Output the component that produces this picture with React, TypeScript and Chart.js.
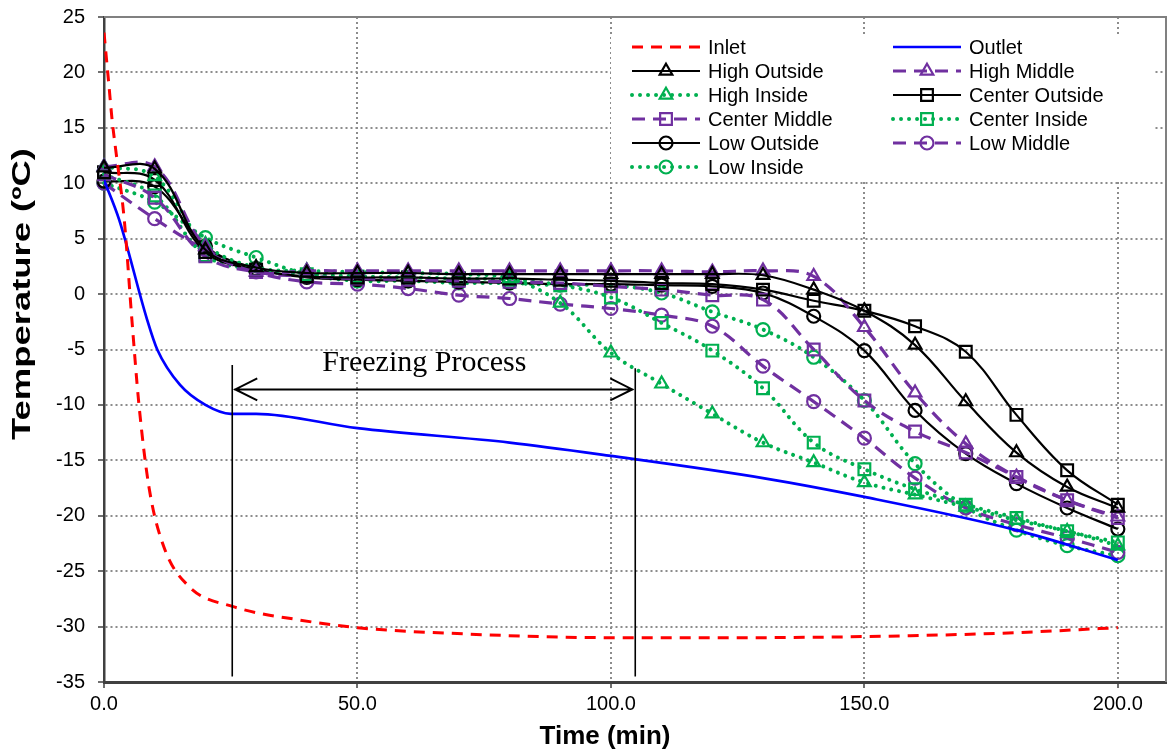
import React, { useEffect, useRef } from "react";
import { Chart, registerables } from "chart.js";

Chart.register(...registerables);

// ---------- DATA ----------
const times = [0, 10, 20, 30, 40, 50, 60, 70, 80, 90, 100, 110, 120, 130, 140, 150, 160, 170, 180, 190, 200];

const highOutside = [11.4, 11.3, 4.0, 2.4, 1.9, 1.9, 1.9, 1.8, 1.8, 1.8, 1.8, 1.8, 1.8, 1.7, 0.4, -1.5, -4.6, -9.7, -14.3, -17.4, -19.3];
const highMiddle = [11.5, 11.5, 4.3, 2.0, 2.1, 2.1, 2.1, 2.1, 2.1, 2.1, 2.1, 2.1, 2.0, 2.1, 1.6, -3.0, -8.9, -13.5, -16.5, -18.6, -20.1];
const highInside = [11.5, 10.6, 4.5, 2.4, 2.1, 2.0, 1.9, 1.8, 1.4, -0.8, -5.3, -8.1, -10.8, -13.4, -15.2, -17.0, -18.1, -19.2, -20.4, -21.4, -22.7];
const centerOutside = [11.0, 10.3, 3.8, 2.2, 1.6, 1.5, 1.5, 1.4, 1.4, 1.3, 1.2, 1.0, 0.9, 0.4, -0.6, -1.5, -2.9, -5.2, -10.9, -15.9, -19.0];
const centerMiddle = [10.8, 8.7, 3.4, 2.0, 1.6, 1.4, 1.3, 1.2, 1.1, 1.0, 0.7, 0.4, -0.1, -0.5, -5.0, -9.6, -12.4, -14.3, -16.5, -18.6, -20.2];
const centerInside = [10.8, 8.9, 3.5, 2.2, 1.8, 1.6, 1.5, 1.4, 1.3, 0.8, -0.3, -2.6, -5.1, -8.5, -13.4, -15.8, -17.6, -19.0, -20.2, -21.4, -22.4];
const lowOutside = [10.2, 9.7, 4.3, 2.3, 1.5, 1.3, 1.2, 1.1, 1.0, 0.9, 0.9, 0.8, 0.7, 0.1, -2.0, -5.1, -10.5, -14.4, -17.1, -19.3, -21.2];
const lowMiddle = [10.0, 6.8, 4.0, 2.0, 1.1, 0.9, 0.5, -0.1, -0.4, -0.9, -1.3, -1.9, -2.9, -6.5, -9.7, -13.0, -16.6, -19.3, -20.8, -22.0, -23.3];
const lowInside = [10.0, 8.3, 5.1, 3.3, 1.8, 1.2, 1.2, 1.0, 1.0, 0.8, 0.8, 0.1, -1.6, -3.2, -5.7, -9.6, -15.3, -19.2, -21.3, -22.7, -23.6];

const inletTime = [0, 1, 1.6, 2.4, 4, 5.5, 6.9, 8.9, 11.8, 16.8, 25.5, 38.5, 50, 68, 100, 127, 150, 177, 200];
const inletTemp = [23.6, 18.7, 15.7, 12.7, 6.7, -2.3, -10, -17.5, -22.8, -26.4, -28.2, -29.4, -30.1, -30.6, -31.0, -31.0, -30.9, -30.6, -30.1];

const outletTime = [0, 3, 8.5, 10.5, 15, 20, 25, 30, 50, 80, 100, 130, 150, 180, 200];
const outletTemp = [10.3, 6.7, -2.3, -5.0, -8.2, -10.0, -10.8, -10.8, -12.1, -13.4, -14.6, -16.6, -18.3, -21.3, -24.0];

// annotation (data units)
const freezeStart = 25.3;
const freezeEnd = 104.8;
const freezeArrowY = -8.6;
const freezeLineTopStart = -6.4;
const freezeLineTopEnd = -6.7;
const freezeLineBottom = -34.5;
const freezeLabelX = 63.2;
const freezeLabelY = -6.2;
const freezeLabel = "Freezing Process";

const xMin = 0, xMax = 209.5, xStep = 50;
const yMin = -35, yMax = 25, yStep = 5;

// ---------- STYLE ----------
const PURPLE = "#7030A0";
const GREEN = "#00B050";
const SANS = '"Liberation Sans", Arial, sans-serif';
const SERIF = '"Liberation Serif", "Times New Roman", serif';

const zip = (xs: number[], ys: number[]) => xs.map((x, i) => ({ x, y: ys[i] }));

type Kind = "solid" | "dash" | "dot";
function seriesDs(label: string, values: number[], kind: Kind, shape: string) {
  const color = kind === "solid" ? "#000000" : kind === "dash" ? PURPLE : GREEN;
  const radius = shape === "triangle" ? 7.3 : shape === "rect" ? 8.3 : 6.5;
  return {
    label,
    data: zip(times, values),
    borderColor: color,
    borderWidth: kind === "solid" ? 2.2 : kind === "dash" ? 3.2 : 4,
    borderDash: kind === "solid" ? [] : kind === "dash" ? [13, 8] : [0.01, 8],
    borderCapStyle: kind === "dot" ? "round" : "butt",
    tension: 0.38,
    pointStyle: shape,
    pointRadius: radius,
    pointBorderWidth: 2.2,
    pointBorderColor: color,
    pointBackgroundColor: "rgba(0,0,0,0)",
    fill: false,
    clip: false,
  };
}

function drawMarker(ctx: CanvasRenderingContext2D, shape: string, x: number, y: number, r: number) {
  ctx.beginPath();
  if (shape === "triangle") {
    const edge = (3 * r) / Math.sqrt(3);
    const h = (edge * Math.sqrt(3)) / 2;
    ctx.moveTo(x, y - (2 * h) / 3);
    ctx.lineTo(x + edge / 2, y + h / 3);
    ctx.lineTo(x - edge / 2, y + h / 3);
    ctx.closePath();
  } else if (shape === "rect") {
    const s = Math.SQRT1_2 * r;
    ctx.rect(x - s, y - s, 2 * s, 2 * s);
  } else {
    ctx.arc(x, y, r, 0, Math.PI * 2);
  }
  ctx.stroke();
}

const legendPlugin = {
  id: "boxLegend",
  afterDatasetsDraw(chart: any) {
    const ctx: CanvasRenderingContext2D = chart.ctx;
    ctx.save();
    ctx.fillStyle = "#ffffff";
    ctx.fillRect(611, 35, 542, 144);
    ctx.font = `20px ${SANS}`;
    ctx.textBaseline = "middle";
    ctx.textAlign = "left";
    chart.data.datasets.forEach((ds: any, i: number) => {
      const col = i % 2;
      const row = Math.floor(i / 2);
      const x0 = col === 0 ? 632 : 893;
      const y = 47 + row * 24;
      ctx.strokeStyle = ds.borderColor;
      ctx.lineWidth = ds.borderWidth;
      ctx.setLineDash(ds.borderDash || []);
      ctx.lineCap = ds.borderCapStyle || "butt";
      ctx.beginPath();
      ctx.moveTo(x0, y);
      ctx.lineTo(x0 + 68, y);
      ctx.stroke();
      if (ds.pointRadius > 0) {
        ctx.setLineDash([]);
        ctx.lineCap = "butt";
        ctx.lineWidth = ds.pointBorderWidth;
        drawMarker(ctx, ds.pointStyle, x0 + 34, y, ds.pointRadius);
      }
      ctx.fillStyle = "#000000";
      ctx.fillText(ds.label, x0 + 76, y + 1);
    });
    ctx.restore();
  },
};

const annotationPlugin = {
  id: "freezing",
  afterDatasetsDraw(chart: any) {
    const ctx: CanvasRenderingContext2D = chart.ctx;
    const x = chart.scales.x;
    const y = chart.scales.y;
    const xa = x.getPixelForValue(freezeStart);
    const xb = x.getPixelForValue(freezeEnd);
    const ya = y.getPixelForValue(freezeArrowY);
    ctx.save();
    ctx.strokeStyle = "#000";
    ctx.lineWidth = 1.6;
    ctx.setLineDash([]);
    ctx.beginPath();
    ctx.moveTo(xa, y.getPixelForValue(freezeLineTopStart));
    ctx.lineTo(xa, y.getPixelForValue(freezeLineBottom));
    ctx.moveTo(xb, y.getPixelForValue(freezeLineTopEnd));
    ctx.lineTo(xb, y.getPixelForValue(freezeLineBottom));
    ctx.stroke();
    ctx.lineWidth = 2;
    ctx.beginPath();
    ctx.moveTo(xa + 2, ya);
    ctx.lineTo(xb - 2, ya);
    ctx.moveTo(xa + 25, ya - 11);
    ctx.lineTo(xa + 3, ya);
    ctx.lineTo(xa + 25, ya + 11);
    ctx.moveTo(xb - 25, ya - 11);
    ctx.lineTo(xb - 3, ya);
    ctx.lineTo(xb - 25, ya + 11);
    ctx.stroke();
    ctx.fillStyle = "#000";
    ctx.font = `30px ${SERIF}`;
    ctx.textAlign = "center";
    ctx.textBaseline = "middle";
    ctx.fillText(freezeLabel, x.getPixelForValue(freezeLabelX), y.getPixelForValue(freezeLabelY));
    ctx.restore();
  },
};

const framePlugin = {
  id: "frame",
  beforeDatasetsDraw(chart: any) {
    const ctx: CanvasRenderingContext2D = chart.ctx;
    const a = chart.chartArea;
    ctx.save();
    ctx.strokeStyle = "#808080";
    ctx.lineWidth = 2;
    ctx.beginPath();
    ctx.moveTo(a.left, a.top);
    ctx.lineTo(a.right, a.top);
    ctx.lineTo(a.right, a.bottom);
    ctx.stroke();
    ctx.restore();
  },
  afterDraw(chart: any) {
    const ctx: CanvasRenderingContext2D = chart.ctx;
    ctx.save();
    ctx.fillStyle = "#000";
    ctx.font = `bold 26px ${SANS}`;
    ctx.textAlign = "center";
    ctx.textBaseline = "middle";
    ctx.fillText("Time (min)", 605, 737);
    ctx.translate(23, 294);
    ctx.rotate(-Math.PI / 2);
    const label = "Temperature (ºC)";
    const w = ctx.measureText(label).width;
    const target = 292;
    ctx.scale(target / w, 1);
    ctx.fillText(label, 0, 0);
    ctx.restore();
  },
};

const gridOpts = {
  color: "#8c8c8c",
  lineWidth: 2,
  tickLength: 6,
  tickColor: "#404040",
  tickBorderDash: [],
  tickWidth: 1.5,
};

export default function App() {
  const ref = useRef<HTMLCanvasElement | null>(null);
  useEffect(() => {
    if (!ref.current) return;
    const datasets: any[] = [
      {
        label: "Inlet",
        data: zip(inletTime, inletTemp),
        borderColor: "#FF0000",
        borderWidth: 3,
        borderDash: [11, 8],
        borderCapStyle: "butt",
        pointRadius: 0,
        tension: 0.4,
        cubicInterpolationMode: "monotone",
        fill: false,
      },
      {
        label: "Outlet",
        data: zip(outletTime, outletTemp),
        borderColor: "#0000FF",
        borderWidth: 2.7,
        borderDash: [],
        pointRadius: 0,
        tension: 0.4,
        cubicInterpolationMode: "monotone",
        fill: false,
      },
      seriesDs("High Outside", highOutside, "solid", "triangle"),
      seriesDs("High Middle", highMiddle, "dash", "triangle"),
      seriesDs("High Inside", highInside, "dot", "triangle"),
      seriesDs("Center Outside", centerOutside, "solid", "rect"),
      seriesDs("Center Middle", centerMiddle, "dash", "rect"),
      seriesDs("Center Inside", centerInside, "dot", "rect"),
      seriesDs("Low Outside", lowOutside, "solid", "circle"),
      seriesDs("Low Middle", lowMiddle, "dash", "circle"),
      seriesDs("Low Inside", lowInside, "dot", "circle"),
    ];
    const chart = new Chart(ref.current, {
      type: "line",
      data: { datasets },
      options: {
        animation: false,
        responsive: false,
        devicePixelRatio: 1,
        layout: { autoPadding: false, padding: { top: 17, right: 1, left: 0, bottom: 0 } },
        plugins: { legend: { display: false }, tooltip: { enabled: false } },
        scales: {
          x: {
            type: "linear",
            min: xMin,
            max: xMax,
            afterFit: (s: any) => {
              s.height = 71;
              s.paddingLeft = 0;
              s.paddingRight = 0;
            },
            ticks: {
              stepSize: xStep,
              includeBounds: false,
              color: "#000",
              padding: 4,
              maxRotation: 0,
              font: { family: SANS, size: 20 },
              callback: (v: any) => Number(v).toFixed(1),
            },
            grid: gridOpts,
            border: { color: "#404040", width: 3, dash: [2, 3] },
          },
          y: {
            type: "linear",
            min: yMin,
            max: yMax,
            afterFit: (s: any) => {
              s.width = 104;
              s.paddingTop = 0;
              s.paddingBottom = 0;
            },
            ticks: {
              stepSize: yStep,
              color: "#000",
              padding: 13,
              font: { family: SANS, size: 20 },
            },
            grid: gridOpts,
            border: { color: "#404040", width: 2.5, dash: [2, 3] },
          },
        },
      } as any,
      plugins: [framePlugin, annotationPlugin, legendPlugin],
    });
    return () => chart.destroy();
  }, []);
  return (
    <div style={{ position: "fixed", left: 0, top: 0, width: 1167, height: 753, background: "#fff" }}>
      <canvas ref={ref} width={1167} height={753} style={{ display: "block" }} />
    </div>
  );
}
